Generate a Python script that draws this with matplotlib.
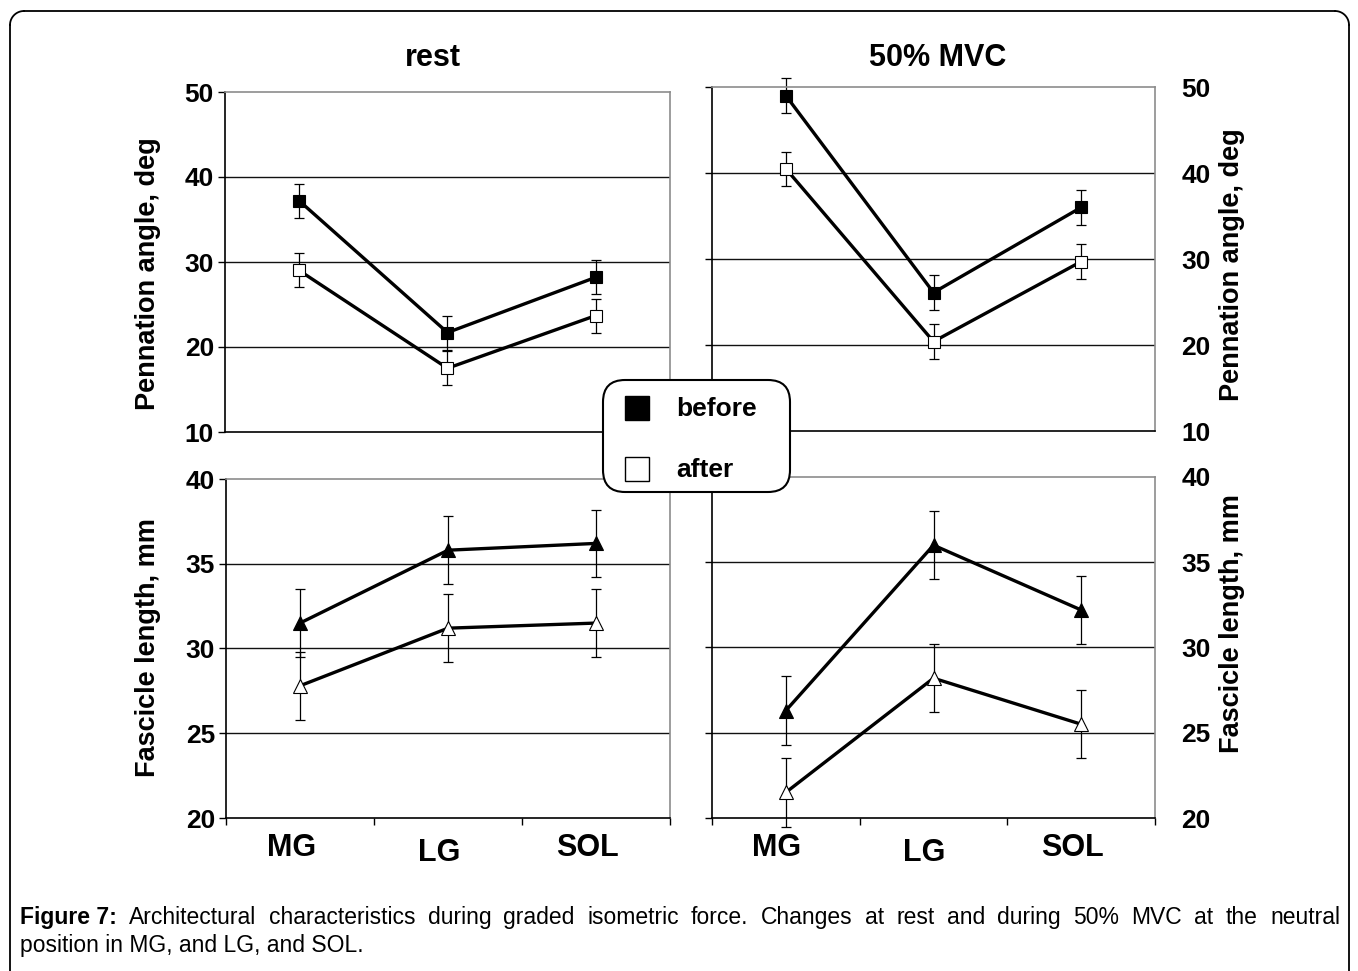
import matplotlib

matplotlib.use("Agg")
import matplotlib.pyplot as plt
import numpy as np
from matplotlib.patches import FancyBboxPatch
from matplotlib.transforms import blended_transform_factory

plt.rcParams["font.family"] = ["Liberation Sans", "DejaVu Sans"]

W, H = 1358, 971

muscles = ["MG", "LG", "SOL"]
conditions = ["rest", "50% MVC"]

# pennation angle (deg), mean and SD
pen_before = {"rest": [37.2, 21.7, 28.2], "50% MVC": [49.0, 26.1, 36.0]}
pen_after = {"rest": [29.0, 17.5, 23.7], "50% MVC": [40.5, 20.4, 29.7]}
pen_err = [2.0, 2.0, 2.0]

# fascicle length (mm), mean and SD
fl_before = {"rest": [31.5, 35.8, 36.2], "50% MVC": [26.3, 36.0, 32.2]}
fl_after = {"rest": [27.8, 31.2, 31.5], "50% MVC": [21.5, 28.2, 25.5]}
fl_err = [2.0, 2.0, 2.0]

pen_ticks = [10, 20, 30, 40, 50]
fl_ticks = [20, 25, 30, 35, 40]

caption_bold = "Figure 7:"
caption_line1 = ("Architectural characteristics during graded isometric force. "
                 "Changes at rest and during 50% MVC at the neutral")
caption_line2 = "position in MG, and LG, and SOL."

fig = plt.figure(figsize=(W / 100, H / 100), dpi=100)


def px_axes(x0, y0, x1, y1):
    return fig.add_axes([x0 / W, 1 - y1 / H, (x1 - x0) / W, (y1 - y0) / H])


def style_axes(ax, ticks, right_labels, bottom_ticks):
    ax.set_xlim(-0.5, 2.5)
    ax.set_ylim(ticks[0], ticks[-1])
    ax.set_yticks(ticks)
    for t in ticks[1:-1]:
        ax.axhline(t, color="#111111", lw=1.0, zorder=0)
    ax.spines["top"].set_color("#8c8c8c")
    ax.spines["right"].set_color("#8c8c8c")
    ax.spines["left"].set_color("black")
    ax.spines["bottom"].set_color("black")
    for s in ax.spines.values():
        s.set_linewidth(1.2)
    ax.tick_params(axis="y", direction="out", length=5, width=1.0,
                   labelsize=19, left=True, right=False,
                   labelleft=not right_labels, labelright=right_labels,
                   pad=14 if right_labels else 3)
    for lab in ax.get_yticklabels():
        lab.set_fontweight("bold")
    if bottom_ticks:
        ax.set_xticks([-0.5, 0.5, 1.5, 2.5])
        ax.tick_params(axis="x", direction="out", length=5, width=1.0,
                       labelbottom=False)
    else:
        ax.set_xticks([])


def draw_pair(ax, before, after, err, marker, ms):
    x = list(range(len(muscles)))
    for vals in (before, after):
        eb = ax.errorbar(x, vals, yerr=err, fmt="none", ecolor="black",
                         elinewidth=0.9, capsize=3.5, capthick=0.9, zorder=2)
        for art in eb.lines[1] + eb.lines[2]:
            art.set_clip_on(False)
    ax.plot(x, before, color="black", lw=2.4, marker=marker, ms=ms,
            mfc="black", mec="black", mew=0.8, zorder=3, clip_on=False)
    ax.plot(x, after, color="black", lw=2.4, marker=marker, ms=ms,
            mfc="white", mec="black", mew=0.8, zorder=3, clip_on=False)


boxes_top = {"rest": (225, 92, 670, 432), "50% MVC": (712, 87, 1155, 431)}
boxes_bot = {"rest": (226, 479, 670, 818), "50% MVC": (712, 477, 1155, 818)}

for cond in conditions:
    right = cond != "rest"
    ax = px_axes(*boxes_top[cond])
    style_axes(ax, pen_ticks, right, False)
    draw_pair(ax, pen_before[cond], pen_after[cond], pen_err, "s", 8.5)

    ax2 = px_axes(*boxes_bot[cond])
    style_axes(ax2, fl_ticks, right, True)
    draw_pair(ax2, fl_before[cond], fl_after[cond], fl_err, "^", 10)
    trans = blended_transform_factory(ax2.transData, ax2.transAxes)
    for i, m in enumerate(muscles):
        dy = -0.058 if m == "LG" else -0.045
        ax2.text(i - 0.06, dy, m, transform=trans, ha="center", va="top",
                 fontsize=22, fontweight="bold")

# overlay in pixel coordinates for titles, labels, legend, caption, frame
ov = fig.add_axes([0, 0, 1, 1], zorder=10)
ov.set_xlim(0, W)
ov.set_ylim(H, 0)
ov.axis("off")
ov.patch.set_alpha(0)

ov.text(433, 58, "rest", ha="center", va="center", fontsize=22, fontweight="bold")
ov.text(938, 58, "50% MVC", ha="center", va="center", fontsize=22, fontweight="bold")

ylab = dict(rotation=90, ha="center", va="center", fontsize=19.5, fontweight="bold")
ov.text(148, 274, "Pennation angle, deg", **ylab)
ov.text(1232, 265, "Pennation angle, deg", **ylab)
ov.text(148, 648, "Fascicle length, mm", **ylab)
ov.text(1232, 624, "Fascicle length, mm", **ylab)

# legend box
ov.add_patch(FancyBboxPatch((603, 380), 187, 112,
                            boxstyle="round,pad=0,rounding_size=22",
                            fc="white", ec="black", lw=1.5, zorder=5))
ov.plot([637], [408], marker="s", ms=17, mfc="black", mec="black", zorder=6)
ov.plot([637], [469], marker="s", ms=17, mfc="white", mec="black", mew=1.0, zorder=6)
ov.text(676, 409, "before", va="center", ha="left", fontsize=19,
        fontweight="bold", zorder=6)
ov.text(676, 470, "after", va="center", ha="left", fontsize=19,
        fontweight="bold", zorder=6)

# outer frame with rounded top corners
r = 14
fx0, fx1, fy0 = 10, 1349, 11
ov.plot([fx0, fx0], [H + 5, fy0 + r], color="black", lw=1.3)
ov.plot([fx0 + r, fx1 - r], [fy0, fy0], color="black", lw=1.3)
ov.plot([fx1, fx1], [fy0 + r, H + 5], color="black", lw=1.3)
t = np.linspace(np.pi, 1.5 * np.pi, 20)
ov.plot(fx0 + r + r * np.cos(t), fy0 + r + r * np.sin(t), color="black", lw=1.3)
t = np.linspace(1.5 * np.pi, 2 * np.pi, 20)
ov.plot(fx1 - r + r * np.cos(t), fy0 + r + r * np.sin(t), color="black", lw=1.3)

# caption: first line justified between left and right margins
cap_fs = 16.5
cx0, cx1 = 20, 1340
fig.canvas.draw()
renderer = fig.canvas.get_renderer()


def width_px(artist):
    bb = artist.get_window_extent(renderer)
    return bb.x1 - bb.x0


words = [(caption_bold, "bold")] + [(w, "normal") for w in caption_line1.split()]
arts = [ov.text(0, 924, w, va="baseline", ha="left", fontsize=cap_fs, fontweight=fw)
        for w, fw in words]
widths = [width_px(a) for a in arts]
gap = (cx1 - cx0 - sum(widths)) / (len(arts) - 1)
x = cx0
for a, w in zip(arts, widths):
    a.set_x(x)
    x += w + gap
ov.text(cx0, 952, caption_line2, va="baseline", ha="left", fontsize=cap_fs)

fig.savefig("out.png", dpi=100)
